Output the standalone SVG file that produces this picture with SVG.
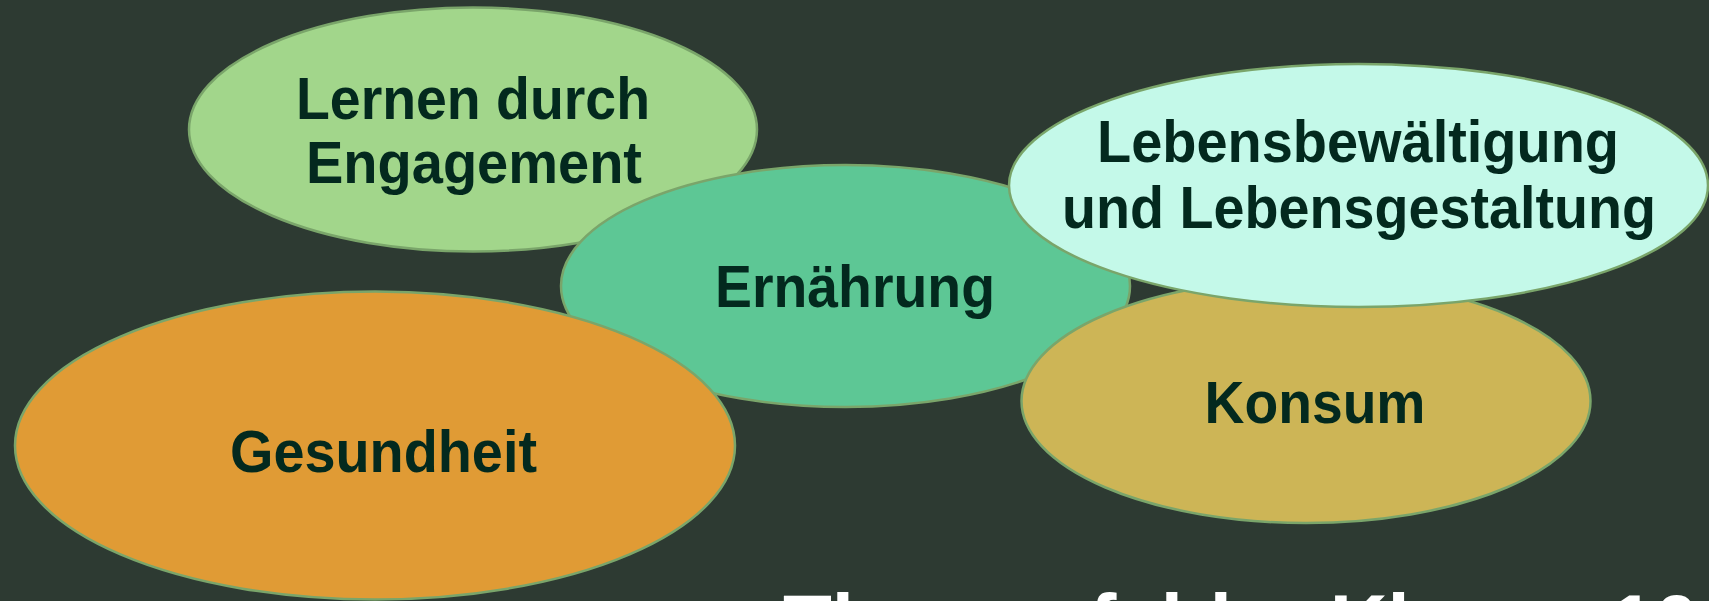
<svg xmlns="http://www.w3.org/2000/svg" width="1709" height="601" viewBox="0 0 1709 601">
<style>
.bg{fill:#2d3a32}
.node ellipse{stroke:#7aa56a;stroke-width:2.5}
.lbl{font-family:"Liberation Sans",Arial,Helvetica,sans-serif;font-weight:bold;font-size:59px;fill:#03291e;text-anchor:middle}
.title{font-family:"Liberation Sans",Arial,Helvetica,sans-serif;font-weight:bold;font-size:84px;fill:#ffffff}
</style>
<rect class="bg" x="0" y="0" width="1709" height="601"/>
<g id="connectors"></g>
<g id="node-lernen" class="node">
<ellipse cx="473" cy="129.5" rx="284" ry="122" fill="#a2d68b"/>
<text class="lbl" x="473" y="119.3" textLength="354" lengthAdjust="spacingAndGlyphs">Lernen durch</text>
<text class="lbl" x="474" y="183.3" textLength="336" lengthAdjust="spacingAndGlyphs">Engagement</text>
</g>
<g id="node-ernaehrung" class="node">
<ellipse cx="845.5" cy="286" rx="284.5" ry="121" fill="#5dc795"/>
<text class="lbl" x="855" y="306.7" textLength="280" lengthAdjust="spacingAndGlyphs">Ernährung</text>
</g>
<g id="node-gesundheit" class="node">
<ellipse cx="375" cy="445.5" rx="360" ry="154" fill="#e09b35"/>
<text class="lbl" x="383.5" y="471.7" textLength="307" lengthAdjust="spacingAndGlyphs">Gesundheit</text>
</g>
<g id="node-konsum" class="node">
<ellipse cx="1306" cy="401" rx="284.5" ry="122" fill="#cdb556"/>
<text class="lbl" x="1315" y="423.3" textLength="221" lengthAdjust="spacingAndGlyphs">Konsum</text>
</g>
<g id="node-lebens" class="node">
<ellipse cx="1358.5" cy="185.5" rx="349.5" ry="121.5" fill="#c4f9e9"/>
<text class="lbl" x="1358" y="161.7" textLength="522" lengthAdjust="spacingAndGlyphs">Lebensbewältigung</text>
<text class="lbl" x="1359" y="228.2" textLength="594" lengthAdjust="spacingAndGlyphs">und Lebensgestaltung</text>
</g>
<text class="title" x="783" y="653" textLength="916" lengthAdjust="spacingAndGlyphs">Themenfelder Klasse 10</text>
</svg>
